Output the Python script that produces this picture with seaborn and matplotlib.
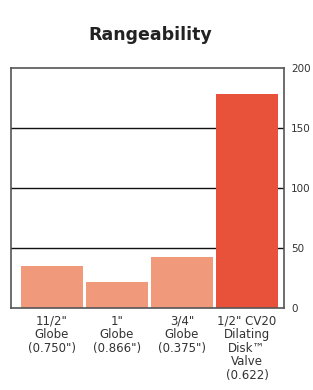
import matplotlib
matplotlib.use("Agg")
import matplotlib.pyplot as plt
import seaborn as sns
import pandas as pd

categories = ['11/2"\nGlobe\n(0.750")', '1"\nGlobe\n(0.866")', '3/4"\nGlobe\n(0.375")',
              '1/2" CV20\nDilating\nDisk\u2122\nValve\n(0.622)']
values = [35, 22, 42.5, 178]
colors = ['#F0997B', '#F0997B', '#F0997B', '#E8513A']
yticks = [0, 50, 100, 150, 200]

sns.set_theme(style="white")
plt.rcParams['font.family'] = ['DejaVu Sans']

fig = plt.figure(figsize=(3.13, 3.9), dpi=100)
ax = fig.add_axes([11/313, 1-308/390, (284-11)/313, (308-68)/390])

df = pd.DataFrame({"cat": categories, "val": values})
sns.barplot(data=df, x="cat", y="val", hue="cat", palette=colors, legend=False,
            width=0.95, saturation=1, ax=ax, zorder=1, linewidth=0)

ax.set_ylim(0, 200)
ax.set_xlim(-0.63, 3.57)
ax.set_yticks(yticks)
ax.yaxis.tick_right()
ax.tick_params(axis='y', length=0, pad=5, labelsize=7.5, labelcolor='#333333')
ax.tick_params(axis='x', length=0, pad=5, labelsize=8.5, labelcolor='#333333')
for lbl in ax.get_xticklabels():
    lbl.set_linespacing(1.05)
for y in [50, 100, 150]:
    ax.axhline(y, color='#111111', lw=1.0, zorder=0)
ax.set_xlabel("")
ax.set_ylabel("")
for s in ax.spines.values():
    s.set_color('#555555')
    s.set_linewidth(1.2)

fig.text(0.48, 1-35/390, "Rangeability", ha='center', va='center',
         fontsize=12.5, fontweight='bold', color='#222222')

fig.savefig("out.png", dpi=100)
